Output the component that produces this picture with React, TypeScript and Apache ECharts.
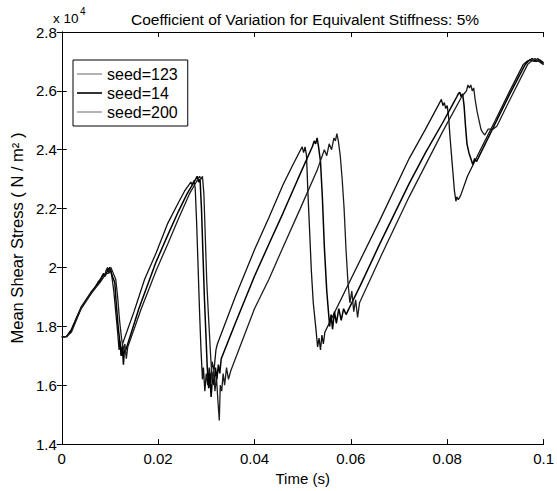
import React, { useEffect, useRef } from "react";
import * as echarts from "echarts";

// Time (s) and mean shear stress (x 10^4 N/m^2)
const seed123Data: [number, number][] = [
  [0, 1.764], [0.001, 1.766], [0.002, 1.79], [0.0028, 1.82], [0.004, 1.865], [0.005, 1.89], [0.006, 1.915],
  [0.007, 1.935], [0.0075, 1.95], [0.008, 1.96], [0.0085, 1.975], [0.0089, 1.97], [0.0092, 1.99], [0.0095, 2.0],
  [0.0098, 1.98], [0.0101, 1.995], [0.0104, 1.97], [0.0108, 1.92], [0.0112, 1.85], [0.0116, 1.78], [0.0119, 1.72],
  [0.0121, 1.75], [0.0123, 1.7], [0.0126, 1.74], [0.015, 1.85], [0.0172, 1.96], [0.0196, 2.05], [0.022, 2.15],
  [0.0242, 2.22], [0.0255, 2.26], [0.0268, 2.29], [0.0271, 2.28], [0.0274, 2.295], [0.0277, 2.27], [0.028, 2.15],
  [0.0283, 2.0], [0.0286, 1.85], [0.0289, 1.72], [0.0292, 1.62], [0.0294, 1.66], [0.0297, 1.58], [0.03, 1.64],
  [0.0303, 1.6], [0.0306, 1.66], [0.0309, 1.61], [0.0312, 1.68], [0.0316, 1.65], [0.032, 1.72], [0.0323, 1.74],
  [0.036, 1.9], [0.04, 2.06], [0.043, 2.17], [0.0459, 2.28], [0.048, 2.35], [0.0499, 2.41], [0.0502, 2.39],
  [0.0505, 2.41], [0.0508, 2.38], [0.0511, 2.25], [0.0514, 2.14], [0.0518, 1.99], [0.0522, 1.88], [0.0527, 1.8],
  [0.0531, 1.73], [0.0534, 1.76], [0.0537, 1.72], [0.054, 1.77], [0.0543, 1.74], [0.0546, 1.78], [0.06, 1.96],
  [0.066, 2.16], [0.0721, 2.37], [0.0755, 2.47], [0.0788, 2.571], [0.0791, 2.55], [0.0794, 2.56], [0.0797, 2.54],
  [0.08, 2.55], [0.0803, 2.51], [0.0806, 2.44], [0.0809, 2.38], [0.0812, 2.32], [0.0815, 2.26], [0.0818, 2.225],
  [0.082, 2.24], [0.0823, 2.23], [0.0828, 2.245], [0.0842, 2.31], [0.0857, 2.36], [0.0869, 2.4], [0.09, 2.5],
  [0.093, 2.6], [0.0958, 2.69], [0.0965, 2.7], [0.0972, 2.705], [0.098, 2.7], [0.0988, 2.71], [0.0995, 2.695],
  [0.1, 2.69],
];

const seed14Data: [number, number][] = [
  [0, 1.764], [0.001, 1.765], [0.002, 1.785], [0.003, 1.825], [0.004, 1.86], [0.005, 1.885], [0.006, 1.91],
  [0.007, 1.935], [0.008, 1.955], [0.0087, 1.98], [0.009, 1.97], [0.0095, 1.99], [0.01, 2.0], [0.0105, 1.97],
  [0.011, 1.95], [0.0113, 1.88], [0.0117, 1.8], [0.0121, 1.74], [0.0124, 1.7], [0.0126, 1.73], [0.0128, 1.67],
  [0.013, 1.72], [0.0133, 1.72], [0.016, 1.86], [0.0196, 2.02], [0.022, 2.11], [0.0242, 2.19], [0.026, 2.25],
  [0.0278, 2.3], [0.0281, 2.31], [0.0284, 2.29], [0.0287, 2.3], [0.029, 2.2], [0.0293, 2.05], [0.0296, 1.9],
  [0.0299, 1.78], [0.0302, 1.66], [0.0305, 1.59], [0.0307, 1.64], [0.031, 1.56], [0.0313, 1.63], [0.0316, 1.6],
  [0.0319, 1.66], [0.0322, 1.62], [0.0325, 1.67], [0.0328, 1.64], [0.0331, 1.69], [0.036, 1.81], [0.04, 1.97],
  [0.043, 2.08], [0.0459, 2.184], [0.049, 2.3], [0.052, 2.41], [0.0524, 2.43], [0.0527, 2.42], [0.053, 2.44],
  [0.0533, 2.41], [0.0537, 2.36], [0.0541, 2.235], [0.0545, 2.07], [0.055, 1.92], [0.0556, 1.8], [0.0559, 1.84],
  [0.0562, 1.79], [0.0566, 1.85], [0.057, 1.81], [0.0575, 1.86], [0.058, 1.82], [0.0585, 1.86], [0.059, 1.84],
  [0.062, 1.94], [0.066, 2.08], [0.0721, 2.285], [0.0755, 2.39], [0.079, 2.49], [0.081, 2.55], [0.082, 2.58],
  [0.0823, 2.59], [0.0826, 2.595], [0.0829, 2.58], [0.0832, 2.59], [0.0835, 2.55], [0.0838, 2.48], [0.0841, 2.42],
  [0.0845, 2.39], [0.0849, 2.37], [0.0853, 2.35], [0.0857, 2.37], [0.0861, 2.36], [0.087, 2.39], [0.09, 2.49],
  [0.093, 2.59], [0.0962, 2.69], [0.0968, 2.7], [0.0976, 2.71], [0.0984, 2.7], [0.0992, 2.705], [0.1, 2.695],
];

const seed200Data: [number, number][] = [
  [0, 1.764], [0.001, 1.766], [0.002, 1.78], [0.003, 1.82], [0.004, 1.86], [0.005, 1.885], [0.006, 1.91],
  [0.007, 1.93], [0.008, 1.95], [0.0088, 1.97], [0.0093, 1.98], [0.0097, 1.98], [0.0102, 2.0], [0.0107, 1.98],
  [0.0112, 1.96], [0.0116, 1.9], [0.012, 1.82], [0.0124, 1.76], [0.0128, 1.72], [0.0131, 1.74], [0.0134, 1.69],
  [0.0137, 1.73], [0.0165, 1.86], [0.0196, 1.99], [0.022, 2.08], [0.0242, 2.165], [0.0265, 2.25], [0.0286, 2.31],
  [0.0289, 2.3], [0.0292, 2.31], [0.0295, 2.25], [0.0298, 2.1], [0.0301, 1.95], [0.0305, 1.82], [0.0309, 1.7],
  [0.0312, 1.62], [0.0315, 1.65], [0.0318, 1.58], [0.0321, 1.63], [0.0324, 1.55], [0.0327, 1.48], [0.0329, 1.6],
  [0.0332, 1.58], [0.0335, 1.64], [0.0338, 1.6], [0.0342, 1.66], [0.0346, 1.62], [0.0351, 1.65], [0.04, 1.86],
  [0.043, 1.96], [0.0459, 2.068], [0.0495, 2.2], [0.053, 2.33], [0.0545, 2.4], [0.055, 2.38], [0.0555, 2.42],
  [0.056, 2.4], [0.0565, 2.44], [0.0568, 2.43], [0.0571, 2.455], [0.0574, 2.43], [0.0578, 2.38], [0.0582, 2.3],
  [0.0586, 2.2], [0.059, 2.06], [0.0594, 1.95], [0.0598, 1.88], [0.0602, 1.92], [0.0606, 1.85], [0.061, 1.89],
  [0.0614, 1.83], [0.0618, 1.88], [0.066, 2.03], [0.0721, 2.24], [0.079, 2.46], [0.083, 2.58], [0.084, 2.6],
  [0.0843, 2.62], [0.0846, 2.61], [0.0849, 2.62], [0.0852, 2.6], [0.0855, 2.61], [0.0858, 2.57], [0.0862, 2.53],
  [0.0866, 2.5], [0.087, 2.47], [0.0873, 2.46], [0.0878, 2.45], [0.0885, 2.47], [0.0895, 2.47], [0.0903, 2.48],
  [0.093, 2.57], [0.0967, 2.69], [0.0974, 2.7], [0.0982, 2.71], [0.099, 2.7], [0.1, 2.69],
];

const seriesNames = ["seed=123", "seed=14", "seed=200"];
const xTicks = { min: 0, max: 0.1, interval: 0.02 };
const yTicks = { min: 1.4, max: 2.8, interval: 0.2 };

const FONT = "'Liberation Sans', Arial, Helvetica, sans-serif";

export default function App() {
  const ref = useRef<HTMLDivElement>(null);
  useEffect(() => {
    if (!ref.current) return;
    const chart = echarts.init(ref.current, undefined, { renderer: "svg" });
    const fmt = (v: number) => String(parseFloat(v.toFixed(4)));
    const axisLine = { show: true, lineStyle: { color: "#000", width: 1 } };
    const tickIn = { show: true, inside: true, length: 5, lineStyle: { color: "#000" } };
    const dataSets = [seed123Data, seed14Data, seed200Data];
    const colors = ["#111", "#000", "#1c1c1c"];
    chart.setOption({
      animation: false,
      backgroundColor: "#fff",
      textStyle: { fontFamily: FONT },
      title: {
        text: "Coefficient of Variation for Equivalent Stiffness: 5%",
        left: 300,
        textAlign: "center",
        top: 6,
        textStyle: { fontSize: 15.5, fontWeight: "normal", color: "#000", fontFamily: FONT },
      },
      legend: {
        orient: "vertical",
        left: 73,
        top: 60,
        backgroundColor: "#fff",
        borderColor: "#000",
        borderWidth: 1,
        borderRadius: 0,
        padding: [6, 10, 6, 4],
        itemWidth: 25,
        itemHeight: 14,
        itemGap: 3,
        textStyle: { fontSize: 16, lineHeight: 14, color: "#000", fontFamily: FONT },
        data: [
          { name: seriesNames[0], icon: "path://M0,0 L25,0 L25,1 L0,1 Z", itemStyle: { color: "#666" } },
          { name: seriesNames[1], icon: "path://M0,0 L25,0 L25,1.6 L0,1.6 Z", itemStyle: { color: "#000" } },
          { name: seriesNames[2], icon: "path://M0,0 L25,0 L25,1 L0,1 Z", itemStyle: { color: "#666" } },
        ],
      },
      grid: { left: 53, right: 9, top: 32, bottom: 43, containLabel: false },
      xAxis: [
        {
          type: "value",
          ...xTicks,
          name: "Time (s)",
          nameLocation: "middle",
          nameGap: 24,
          nameTextStyle: { fontSize: 15, color: "#000", fontFamily: FONT },
          axisLine,
          axisTick: tickIn,
          splitLine: { show: false },
          axisLabel: { fontSize: 15, color: "#000", margin: 7, formatter: fmt, fontFamily: FONT },
        },
        {
          type: "value",
          ...xTicks,
          position: "top",
          axisLine,
          axisTick: tickIn,
          splitLine: { show: false },
          axisLabel: { show: false },
        },
      ],
      yAxis: [
        {
          type: "value",
          ...yTicks,
          name: "Mean Shear Stress ( N / m\u00B2 )",
          nameLocation: "middle",
          nameGap: 29,
          nameTextStyle: { fontSize: 16.5, color: "#000", fontFamily: FONT },
          axisLine,
          axisTick: tickIn,
          splitLine: { show: false },
          axisLabel: { fontSize: 15, color: "#000", margin: 5, formatter: (v: number) => String(parseFloat(v.toFixed(2))), fontFamily: FONT },
        },
        {
          type: "value",
          ...yTicks,
          position: "right",
          axisLine,
          axisTick: tickIn,
          splitLine: { show: false },
          axisLabel: { show: false },
        },
      ],
      graphic: [
        { type: "text", left: 53, top: 11, style: { text: "x 10", fontSize: 13.5, fill: "#000", fontFamily: FONT } },
        { type: "text", left: 80, top: 6, style: { text: "4", fontSize: 10, fill: "#000", fontFamily: FONT } },
      ],
      series: dataSets.map((d, i) => ({
        name: seriesNames[i],
        type: "line",
        data: d,
        showSymbol: false,
        symbol: "none",
        lineStyle: { color: colors[i], width: i === 1 ? 1.5 : 1.3 },
        itemStyle: { color: colors[i] },
        clip: true,
      })),
    });
    return () => chart.dispose();
  }, []);
  return (
    <div
      ref={ref}
      style={{ position: "fixed", left: 0, top: 0, width: 557, height: 491, background: "#fff" }}
    />
  );
}
